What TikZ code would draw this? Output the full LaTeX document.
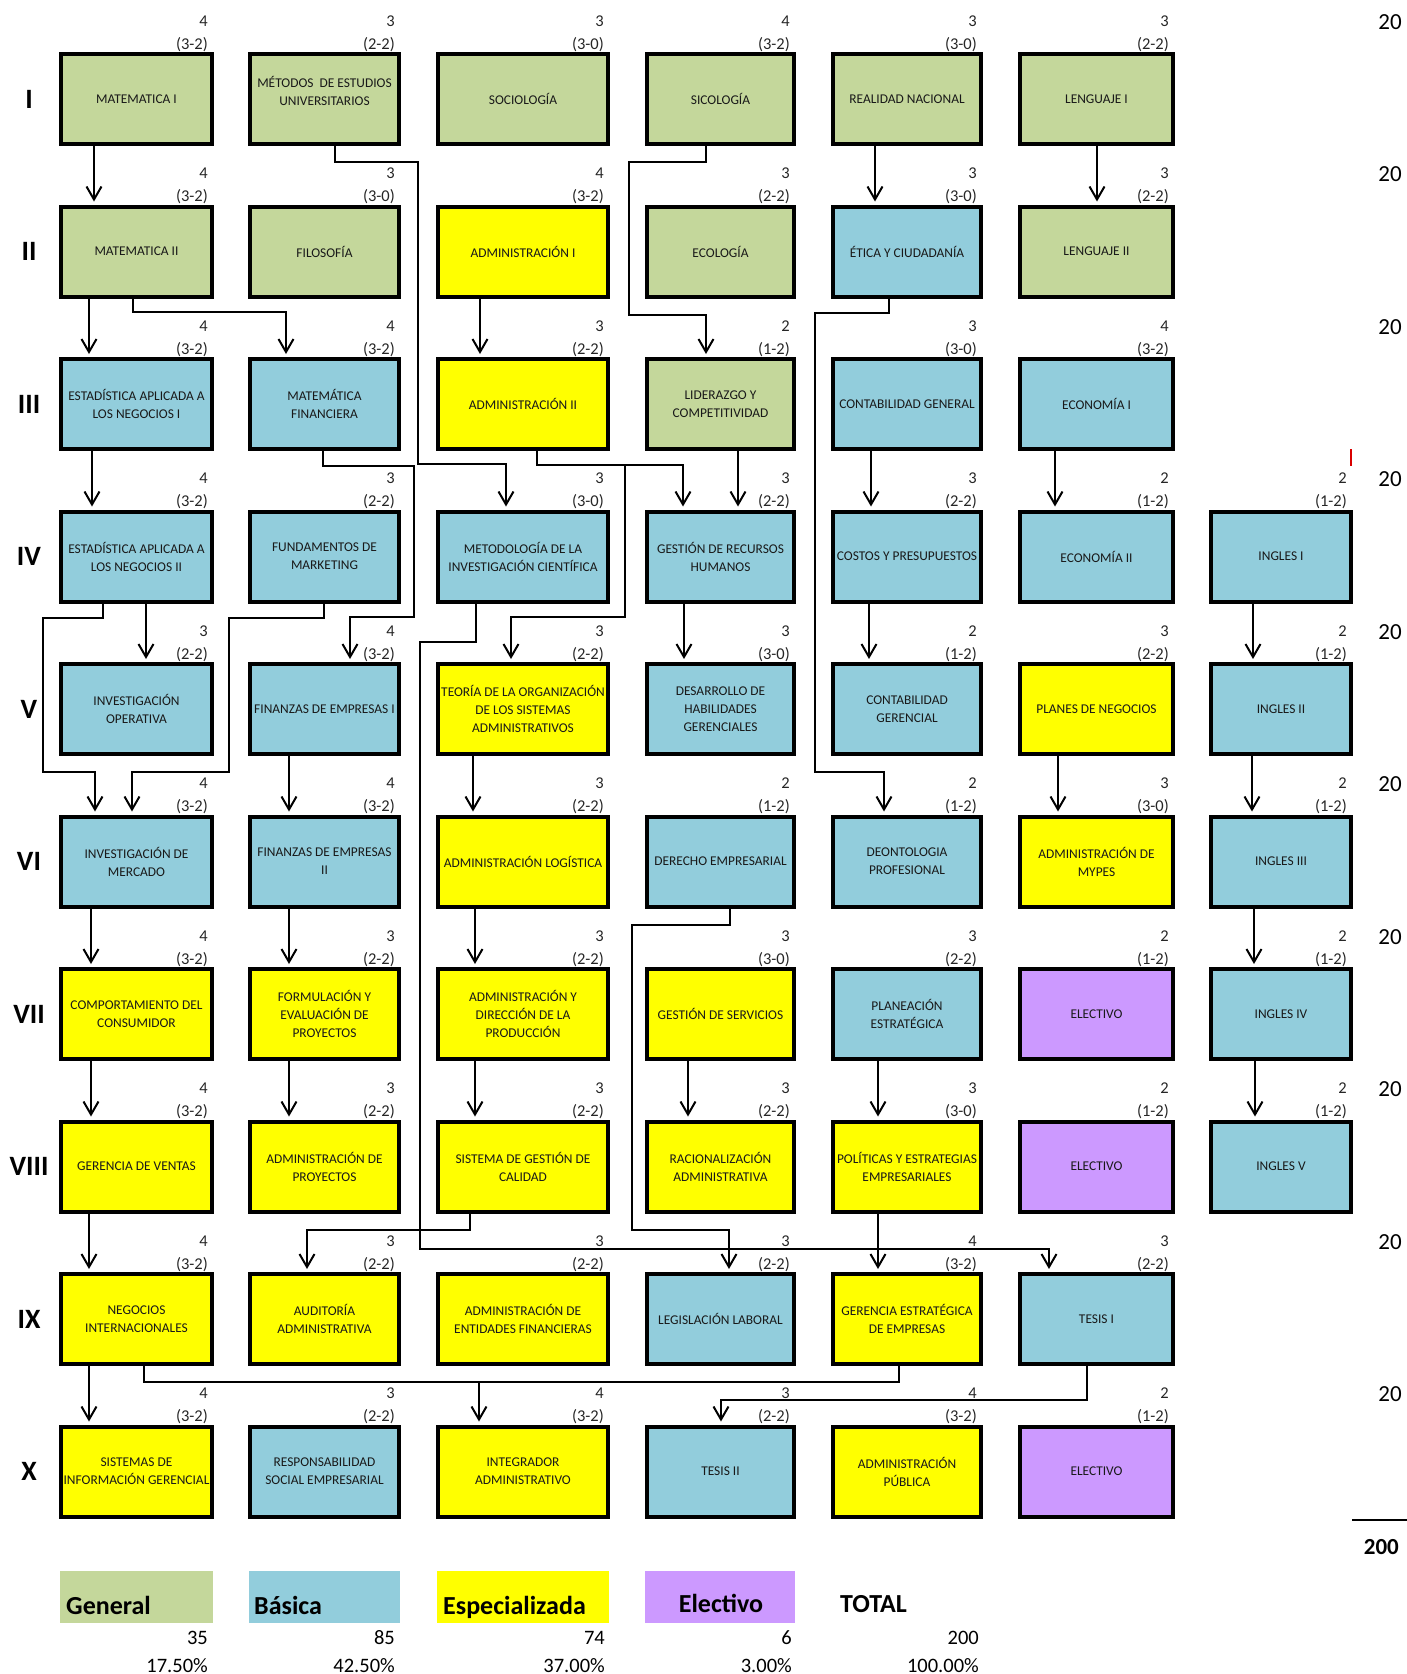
\documentclass[tikz,border=0pt]{standalone}
\usepackage{fontspec}
\setmainfont{Carlito}
\usetikzlibrary{arrows.meta}
\definecolor{cgreen}{HTML}{C4D79B}
\definecolor{cblue}{HTML}{92CDDC}
\definecolor{cyel}{HTML}{FFFF00}
\definecolor{cpur}{HTML}{CC99FF}
\def\cAL{59}\def\cAR{214}
\def\cBL{248}\def\cBR{401}
\def\cCL{436}\def\cCR{610}
\def\cDL{645}\def\cDR{796}
\def\cEL{831}\def\cER{983}
\def\cFL{1018}\def\cFR{1175}
\def\cGL{1209}\def\cGR{1353}
\newcommand{\course}[9][]{%
  \pgfmathsetmacro{\ctop}{52+152.5*(#5-1)}%
  \pgfmathsetmacro{\cxm}{(#3+#4)/2}%
  \pgfmathsetmacro{\cwd}{#4-#3-4}%
  \node[cbox, fill=#6, minimum width=\cwd pt, #1] (#2) at (\cxm,\ctop+47) {#7};%
  \node[crd] (#2-c) at (#4-6,\ctop-26) {#8};%
  \node[crd] (#2-h) at (#4-6,\ctop-3) {#9};%
}
\newcommand{\semrow}[3]{%
  \pgfmathsetmacro{\ctop}{52+152.5*(#2-1)}%
  \node[semf] (#1) at (29,\ctop+47) {#3};%
  \node[twenty] (#1-t) at (1402,\ctop-23) {20};%
}
\begin{document}
\begin{tikzpicture}[x=1pt,y=-1pt,
  cbox/.style={draw=black, line width=4pt, minimum height=90pt, inner sep=1pt,
    align=center, font=\fontsize{13.4}{18}\selectfont, text=black!90},
  crd/.style={anchor=base east, inner sep=0pt, font=\fontsize{16.5}{18}\selectfont, text=black!85},
  semf/.style={inner sep=0pt, font=\fontsize{28}{30}\selectfont\bfseries},
  twenty/.style={anchor=base east, inner sep=0pt, font=\fontsize{23}{25}\selectfont},
  ln/.style={line width=2pt, line join=miter},
  arr/.style={line width=2pt, line join=miter, shorten >=3pt,
    -{Straight Barb[length=13pt,width=15pt]}},
  legbox/.style={minimum height=52pt, inner sep=0pt, draw=none},
  legt/.style={inner sep=0pt, font=\fontsize{26}{28}\selectfont\bfseries},
  legn/.style={anchor=base east, inner sep=0pt, font=\fontsize{20.5}{22}\selectfont}
]
\fill[white] (0,0) rectangle (1407,1674);
\useasboundingbox (0,0) rectangle (1407,1674);

% semester labels and row totals
\semrow{s1}{1}{I}
\semrow{s2}{2}{II}
\semrow{s3}{3}{III}
\semrow{s4}{4}{IV}
\semrow{s5}{5}{V}
\semrow{s6}{6}{VI}
\semrow{s7}{7}{VII}
\semrow{s8}{8}{VIII}
\semrow{s9}{9}{IX}
\semrow{s10}{10}{X}

% Row I
\course{m1}{\cAL}{\cAR}{1}{cgreen}{MATEMATICA I}{4}{(3-2)}
\course[text depth=16pt]{met}{\cBL}{\cBR}{1}{cgreen}{MÉTODOS\ \ DE ESTUDIOS\\UNIVERSITARIOS}{3}{(2-2)}
\course{soc}{\cCL}{\cCR}{1}{cgreen}{SOCIOLOGÍA}{3}{(3-0)}
\course{sic}{\cDL}{\cDR}{1}{cgreen}{SICOLOGÍA}{4}{(3-2)}
\course{rn}{\cEL}{\cER}{1}{cgreen}{REALIDAD NACIONAL}{3}{(3-0)}
\course{len1}{\cFL}{\cFR}{1}{cgreen}{LENGUAJE I}{3}{(2-2)}
% Row II
\course{m2}{\cAL}{\cAR}{2}{cgreen}{MATEMATICA II}{4}{(3-2)}
\course{fil}{\cBL}{\cBR}{2}{cgreen}{FILOSOFÍA}{3}{(3-0)}
\course{adm1}{\cCL}{\cCR}{2}{cyel}{ADMINISTRACIÓN I}{4}{(3-2)}
\course{eco}{\cDL}{\cDR}{2}{cgreen}{ECOLOGÍA}{3}{(2-2)}
\course{eti}{\cEL}{\cER}{2}{cblue}{ÉTICA Y CIUDADANÍA}{3}{(3-0)}
\course{len2}{\cFL}{\cFR}{2}{cgreen}{LENGUAJE II}{3}{(2-2)}
% Row III
\course{est1}{\cAL}{\cAR}{3}{cblue}{ESTADÍSTICA APLICADA A\\LOS NEGOCIOS I}{4}{(3-2)}
\course{mfin}{\cBL}{\cBR}{3}{cblue}{MATEMÁTICA\\FINANCIERA}{4}{(3-2)}
\course{adm2}{\cCL}{\cCR}{3}{cyel}{ADMINISTRACIÓN II}{3}{(2-2)}
\course{lid}{\cDL}{\cDR}{3}{cgreen}{LIDERAZGO Y\\COMPETITIVIDAD}{2}{(1-2)}
\course{cg}{\cEL}{\cER}{3}{cblue}{CONTABILIDAD GENERAL}{3}{(3-0)}
\course{ec1}{\cFL}{\cFR}{3}{cblue}{ECONOMÍA I}{4}{(3-2)}
% Row IV
\course{est2}{\cAL}{\cAR}{4}{cblue}{ESTADÍSTICA APLICADA A\\LOS NEGOCIOS II}{4}{(3-2)}
\course{fmk}{\cBL}{\cBR}{4}{cblue}{FUNDAMENTOS DE\\MARKETING}{3}{(2-2)}
\course{mic}{\cCL}{\cCR}{4}{cblue}{METODOLOGÍA DE LA\\INVESTIGACIÓN CIENTÍFICA}{3}{(3-0)}
\course{grh}{\cDL}{\cDR}{4}{cblue}{GESTIÓN DE RECURSOS\\HUMANOS}{3}{(2-2)}
\course{cyp}{\cEL}{\cER}{4}{cblue}{COSTOS Y PRESUPUESTOS}{3}{(2-2)}
\course{ec2}{\cFL}{\cFR}{4}{cblue}{ECONOMÍA II}{2}{(1-2)}
\course{ing1}{\cGL}{\cGR}{4}{cblue}{INGLES I}{2}{(1-2)}
% Row V
\course{iop}{\cAL}{\cAR}{5}{cblue}{INVESTIGACIÓN\\OPERATIVA}{3}{(2-2)}
\course{fe1}{\cBL}{\cBR}{5}{cblue}{FINANZAS DE EMPRESAS I}{4}{(3-2)}
\course{teo}{\cCL}{\cCR}{5}{cyel}{TEORÍA DE LA ORGANIZACIÓN\\DE LOS SISTEMAS\\ADMINISTRATIVOS}{3}{(2-2)}
\course{dhg}{\cDL}{\cDR}{5}{cblue}{DESARROLLO DE\\HABILIDADES\\GERENCIALES}{3}{(3-0)}
\course{cger}{\cEL}{\cER}{5}{cblue}{CONTABILIDAD\\GERENCIAL}{2}{(1-2)}
\course{pn}{\cFL}{\cFR}{5}{cyel}{PLANES DE NEGOCIOS}{3}{(2-2)}
\course{ing2}{\cGL}{\cGR}{5}{cblue}{INGLES II}{2}{(1-2)}
% Row VI
\course{im}{\cAL}{\cAR}{6}{cblue}{INVESTIGACIÓN DE\\MERCADO}{4}{(3-2)}
\course{fe2}{\cBL}{\cBR}{6}{cblue}{FINANZAS DE EMPRESAS\\II}{4}{(3-2)}
\course{alog}{\cCL}{\cCR}{6}{cyel}{ADMINISTRACIÓN LOGÍSTICA}{3}{(2-2)}
\course{der}{\cDL}{\cDR}{6}{cblue}{DERECHO EMPRESARIAL}{2}{(1-2)}
\course{deo}{\cEL}{\cER}{6}{cblue}{DEONTOLOGIA\\PROFESIONAL}{2}{(1-2)}
\course{mypes}{\cFL}{\cFR}{6}{cyel}{ADMINISTRACIÓN DE\\MYPES}{3}{(3-0)}
\course{ing3}{\cGL}{\cGR}{6}{cblue}{INGLES III}{2}{(1-2)}
% Row VII
\course{cc}{\cAL}{\cAR}{7}{cyel}{COMPORTAMIENTO DEL\\CONSUMIDOR}{4}{(3-2)}
\course{fep}{\cBL}{\cBR}{7}{cyel}{FORMULACIÓN Y\\EVALUACIÓN DE\\PROYECTOS}{3}{(2-2)}
\course{adp}{\cCL}{\cCR}{7}{cyel}{ADMINISTRACIÓN Y\\DIRECCIÓN DE LA\\PRODUCCIÓN}{3}{(2-2)}
\course{gs}{\cDL}{\cDR}{7}{cyel}{GESTIÓN DE SERVICIOS}{3}{(3-0)}
\course{pe}{\cEL}{\cER}{7}{cblue}{PLANEACIÓN\\ESTRATÉGICA}{3}{(2-2)}
\course{el1}{\cFL}{\cFR}{7}{cpur}{ELECTIVO}{2}{(1-2)}
\course{ing4}{\cGL}{\cGR}{7}{cblue}{INGLES IV}{2}{(1-2)}
% Row VIII
\course{gv}{\cAL}{\cAR}{8}{cyel}{GERENCIA DE VENTAS}{4}{(3-2)}
\course{ap}{\cBL}{\cBR}{8}{cyel}{ADMINISTRACIÓN DE\\PROYECTOS}{3}{(2-2)}
\course{sgc}{\cCL}{\cCR}{8}{cyel}{SISTEMA DE GESTIÓN DE\\CALIDAD}{3}{(2-2)}
\course{ra}{\cDL}{\cDR}{8}{cyel}{RACIONALIZACIÓN\\ADMINISTRATIVA}{3}{(2-2)}
\course{pol}{\cEL}{\cER}{8}{cyel}{POLÍTICAS Y ESTRATEGIAS\\EMPRESARIALES}{3}{(3-0)}
\course{el2}{\cFL}{\cFR}{8}{cpur}{ELECTIVO}{2}{(1-2)}
\course{ing5}{\cGL}{\cGR}{8}{cblue}{INGLES V}{2}{(1-2)}
% Row IX
\course{ni}{\cAL}{\cAR}{9}{cyel}{NEGOCIOS\\INTERNACIONALES}{4}{(3-2)}
\course{aud}{\cBL}{\cBR}{9}{cyel}{AUDITORÍA\\ADMINISTRATIVA}{3}{(2-2)}
\course{aef}{\cCL}{\cCR}{9}{cyel}{ADMINISTRACIÓN DE\\ENTIDADES FINANCIERAS}{3}{(2-2)}
\course{ll}{\cDL}{\cDR}{9}{cblue}{LEGISLACIÓN LABORAL}{3}{(2-2)}
\course{ge}{\cEL}{\cER}{9}{cyel}{GERENCIA ESTRATÉGICA\\DE EMPRESAS}{4}{(3-2)}
\course{t1}{\cFL}{\cFR}{9}{cblue}{TESIS I}{3}{(2-2)}
% Row X
\course{sig}{\cAL}{\cAR}{10}{cyel}{SISTEMAS DE\\INFORMACIÓN GERENCIAL}{4}{(3-2)}
\course{rse}{\cBL}{\cBR}{10}{cblue}{RESPONSABILIDAD\\SOCIAL EMPRESARIAL}{3}{(2-2)}
\course{ia}{\cCL}{\cCR}{10}{cyel}{INTEGRADOR\\ADMINISTRATIVO}{4}{(3-2)}
\course{t2}{\cDL}{\cDR}{10}{cblue}{TESIS II}{3}{(2-2)}
\course{apu}{\cEL}{\cER}{10}{cyel}{ADMINISTRACIÓN\\PÚBLICA}{4}{(3-2)}
\course{el3}{\cFL}{\cFR}{10}{cpur}{ELECTIVO}{2}{(1-2)}

% connectors
\draw[arr] (m1.south -| 94,0) -- (m2.north -| 94,0);
\draw[arr] (met.south -| 335,0) -- (335,162) -- (418,162) -- (418,464) -- (506,464) -- (mic.north -| 506,0);
\draw[arr] (sic.south -| 706,0) -- (706,162) -- (629,162) -- (629,315) -- (706,315) -- (lid.north -| 706,0);
\draw[arr] (rn.south -| 875,0) -- (eti.north -| 875,0);
\draw[arr] (len1.south -| 1097,0) -- (len2.north -| 1097,0);
\draw[arr] (m2.south -| 89,0) -- (est1.north -| 89,0);
\draw[arr] (m2.south -| 133,0) -- (133,312) -- (286,312) -- (mfin.north -| 286,0);
\draw[arr] (adm1.south -| 480,0) -- (adm2.north -| 480,0);
\draw[arr] (eti.south -| 889,0) -- (889,313) -- (815,313) -- (815,772) -- (884,772) -- (deo.north -| 884,0);
\draw[arr] (est1.south -| 92,0) -- (est2.north -| 92,0);
\draw[arr] (mfin.south -| 323,0) -- (323,466) -- (414,466) -- (414,617) -- (350,617) -- (fe1.north -| 350,0);
\draw[arr] (adm2.south -| 537,0) -- (537,465) -- (683,465) -- (grh.north -| 683,0);
\draw[arr] (adm2.south -| 537,0) -- (537,465) -- (625,465) -- (625,617) -- (511,617) -- (teo.north -| 511,0);
\draw[arr] (lid.south -| 738,0) -- (grh.north -| 738,0);
\draw[arr] (cg.south -| 871,0) -- (cyp.north -| 871,0);
\draw[arr] (ec1.south -| 1055,0) -- (ec2.north -| 1055,0);
\draw[arr] (est2.south -| 146,0) -- (iop.north -| 146,0);
\draw[arr] (est2.south -| 103,0) -- (103,618) -- (43,618) -- (43,772) -- (95,772) -- (im.north -| 95,0);
\draw[arr] (fmk.south -| 324,0) -- (324,618) -- (229,618) -- (229,772) -- (132,772) -- (im.north -| 132,0);
\draw[arr] (mic.south -| 476,0) -- (476,642) -- (420,642) -- (420,1249) -- (1049,1249) -- (t1.north -| 1049,0);
\draw[arr] (grh.south -| 684,0) -- (dhg.north -| 684,0);
\draw[arr] (cyp.south -| 869,0) -- (cger.north -| 869,0);
\draw[arr] (ing1.south -| 1253,0) -- (ing2.north -| 1253,0);
\draw[arr] (fe1.south -| 289,0) -- (fe2.north -| 289,0);
\draw[arr] (teo.south -| 473,0) -- (alog.north -| 473,0);
\draw[arr] (pn.south -| 1058,0) -- (mypes.north -| 1058,0);
\draw[arr] (ing2.south -| 1252,0) -- (ing3.north -| 1252,0);
\draw[arr] (im.south -| 91,0) -- (cc.north -| 91,0);
\draw[arr] (fe2.south -| 289,0) -- (fep.north -| 289,0);
\draw[arr] (alog.south -| 475,0) -- (adp.north -| 475,0);
\draw[arr] (der.south -| 730,0) -- (730,925) -- (632,925) -- (632,1230) -- (729,1230) -- (ll.north -| 729,0);
\draw[arr] (ing3.south -| 1254,0) -- (ing4.north -| 1254,0);
\draw[arr] (cc.south -| 91,0) -- (gv.north -| 91,0);
\draw[arr] (fep.south -| 289,0) -- (ap.north -| 289,0);
\draw[arr] (adp.south -| 475,0) -- (sgc.north -| 475,0);
\draw[arr] (gs.south -| 688,0) -- (ra.north -| 688,0);
\draw[arr] (pe.south -| 878,0) -- (pol.north -| 878,0);
\draw[arr] (ing4.south -| 1255,0) -- (ing5.north -| 1255,0);
\draw[arr] (gv.south -| 89,0) -- (ni.north -| 89,0);
\draw[arr] (sgc.south -| 470,0) -- (470,1230) -- (307,1230) -- (aud.north -| 307,0);
\draw[arr] (pol.south -| 878,0) -- (ge.north -| 878,0);
\draw[arr] (ni.south -| 89,0) -- (sig.north -| 89,0);
\draw[arr] (ni.south -| 144,0) -- (144,1382) -- (479,1382) -- (ia.north -| 479,0);
\draw[ln] (ge.south -| 899,0) -- (899,1382) -- (479,1382);
\draw[arr] (t1.south -| 1087,0) -- (1087,1400) -- (721,1400) -- (t2.north -| 721,0);

% red mark
\draw[red!85!black, line width=2.7pt] (1351,449) -- (1351,466);

% total column
\draw[line width=2.5pt] (1352,1520) -- (1407,1520);
\node[anchor=base east, inner sep=0pt, font=\fontsize{23}{25}\selectfont\bfseries] (tot) at (1399,1554) {200};

% legend
\node[legbox, fill=cgreen, minimum width=153pt] (lgA) at (136.5,1597) {};
\node[legbox, fill=cblue, minimum width=151pt] (lgB) at (324.5,1597) {};
\node[legbox, fill=cyel, minimum width=172pt] (lgC) at (523,1597) {};
\node[legbox, fill=cpur, minimum width=150pt] (lgD) at (720,1597) {};
\node[legt, anchor=base west] (lgAt) at (66,1614) {General};
\node[legt, anchor=base west] (lgBt) at (254,1614) {Básica};
\node[legt, anchor=base west] (lgCt) at (443,1614) {Especializada};
\node[legt, anchor=base] (lgDt) at (721,1612) {Electivo};
\node[legt, anchor=base west] (lgEt) at (840,1612) {TOTAL};
\node[legn] (nA) at (208,1644) {35};
\node[legn] (pA) at (208,1672) {17.50\%};
\node[legn] (nB) at (395,1644) {85};
\node[legn] (pB) at (395,1672) {42.50\%};
\node[legn] (nC) at (605,1644) {74};
\node[legn] (pC) at (605,1672) {37.00\%};
\node[legn] (nD) at (792,1644) {6};
\node[legn] (pD) at (792,1672) {3.00\%};
\node[legn] (nE) at (979,1644) {200};
\node[legn] (pE) at (979,1672) {100.00\%};
\end{tikzpicture}
\end{document}
